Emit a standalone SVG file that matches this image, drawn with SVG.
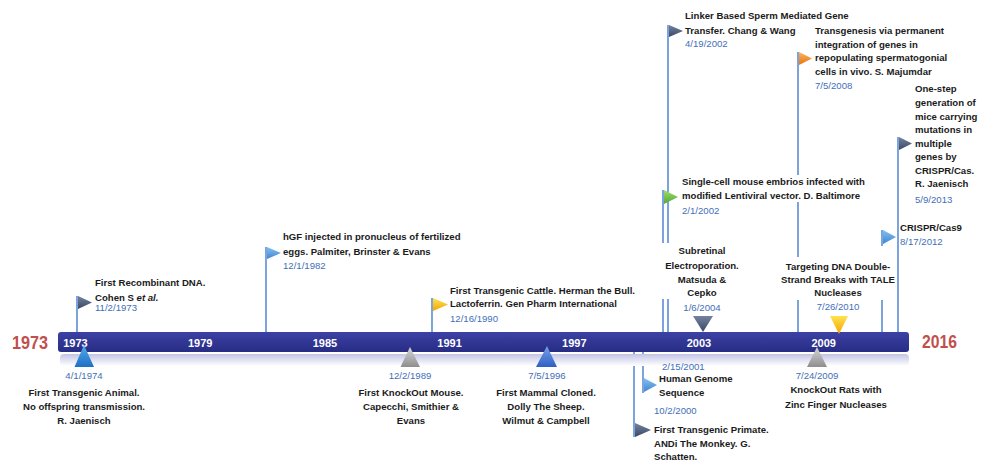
<svg xmlns="http://www.w3.org/2000/svg" width="981" height="464" viewBox="0 0 981 464">
<defs>
<linearGradient id="gBar" x1="0" y1="0" x2="0" y2="1"><stop offset="0" stop-color="#3c41a5"/><stop offset="1" stop-color="#272c84"/></linearGradient>
<linearGradient id="gShadow" x1="0" y1="0" x2="0" y2="1"><stop offset="0" stop-color="#c3c4e6"/><stop offset="1" stop-color="#ffffff"/></linearGradient>
<linearGradient id="gDark" x1="0" y1="0" x2="0" y2="1"><stop offset="0" stop-color="#74839f"/><stop offset="1" stop-color="#3a4866"/></linearGradient>
<linearGradient id="gLight" x1="0" y1="0" x2="0" y2="1"><stop offset="0" stop-color="#86c0ef"/><stop offset="1" stop-color="#3f86d2"/></linearGradient>
<linearGradient id="gYellow" x1="0" y1="0" x2="0" y2="1"><stop offset="0" stop-color="#ffe24f"/><stop offset="1" stop-color="#f2a600"/></linearGradient>
<linearGradient id="gGreen" x1="0" y1="0" x2="0" y2="1"><stop offset="0" stop-color="#a2dc66"/><stop offset="1" stop-color="#4fa83a"/></linearGradient>
<linearGradient id="gOrange" x1="0" y1="0" x2="0" y2="1"><stop offset="0" stop-color="#fbb561"/><stop offset="1" stop-color="#e8730f"/></linearGradient>
<linearGradient id="gBlueTri" x1="0" y1="0" x2="0" y2="1"><stop offset="0" stop-color="#52ace9"/><stop offset="1" stop-color="#1f6fc4"/></linearGradient>
<linearGradient id="gBlue2" x1="0" y1="0" x2="0" y2="1"><stop offset="0" stop-color="#77a2e8"/><stop offset="1" stop-color="#2f5fc4"/></linearGradient>
<linearGradient id="gGray" x1="0" y1="0" x2="0" y2="1"><stop offset="0" stop-color="#d6d6d6"/><stop offset="1" stop-color="#8e8e8e"/></linearGradient>
</defs>
<style>
.t{font-family:"Liberation Sans",Arial,sans-serif;font-size:9.6px;font-weight:bold;fill:#1b1b1b}
.d{font-family:"Liberation Sans",Arial,sans-serif;font-size:9.6px;fill:#3f6fb8}
.c{text-anchor:middle}
.yr{font-family:"Liberation Sans",Arial,sans-serif;font-size:11px;font-weight:bold;fill:#ffffff;text-anchor:middle}
.big{font-family:"Liberation Sans",Arial,sans-serif;font-size:18px;font-weight:bold;fill:#c0504d}
.pole{stroke:#5b8ed6;stroke-width:1.6;fill:none}
</style>

<g id="connectors">
<path class="pole" d="M77 296V332"/>
<path class="pole" d="M266 247V332"/>
<path class="pole" d="M432 298V332"/>
<path class="pole" d="M668 25V243M668 299V332"/>
<path class="pole" d="M663 190V243M663 299V332"/>
<path class="pole" d="M798 52V175M798 202V257M798 300V332"/>
<path class="pole" d="M898 137V332"/>
<path class="pole" d="M882 230V246M882 300V332"/>
<path class="pole" d="M634 352V437"/>
<path class="pole" d="M643 352V393"/>
</g>

<g id="timeline">
<rect x="60" y="354" width="849" height="12" rx="4" fill="url(#gShadow)"/>
<rect x="58" y="332" width="851" height="20" rx="3" fill="url(#gBar)"/>
<text class="yr" x="75.5" y="346.5">1973</text>
<text class="yr" x="200.2" y="346.5">1979</text>
<text class="yr" x="324.9" y="346.5">1985</text>
<text class="yr" x="449.6" y="346.5">1991</text>
<text class="yr" x="574.3" y="346.5">1997</text>
<text class="yr" x="699" y="346.5">2003</text>
<text class="yr" x="823.7" y="346.5">2009</text>
<text class="big" x="12" y="348.5" textLength="36" lengthAdjust="spacingAndGlyphs">1973</text>
<text class="big" x="922" y="348" textLength="35" lengthAdjust="spacingAndGlyphs">2016</text>
</g>

<g id="ev-recombinant">
<polygon points="78,296 78,309 92,302.5" fill="url(#gDark)"/>
<text class="t" x="95" y="286">First Recombinant DNA.</text>
<text class="t" x="95" y="301">Cohen S <tspan font-style="italic">et al.</tspan></text>
<text class="d" x="95" y="311">11/2/1973</text>
</g>

<g id="ev-hgf">
<polygon points="267,247 267,259 281,253" fill="url(#gLight)"/>
<text class="t" x="283" y="239.5">hGF injected in pronucleus of fertilized</text>
<text class="t" x="283" y="255">eggs. Palmiter, Brinster &amp; Evans</text>
<text class="d" x="283" y="268.5">12/1/1982</text>
</g>

<g id="ev-cattle">
<polygon points="433,298 433,311 448,304.5" fill="url(#gYellow)"/>
<text class="t" x="450" y="293.5">First Transgenic Cattle. Herman the Bull.</text>
<text class="t" x="450" y="307">Lactoferrin. Gen Pharm International</text>
<text class="d" x="450" y="322">12/16/1990</text>
</g>

<g id="ev-linker">
<polygon points="669,25 669,37 683,31" fill="url(#gDark)"/>
<text class="t" x="685" y="18.5">Linker Based Sperm Mediated Gene</text>
<text class="t" x="685" y="33.5">Transfer. Chang &amp; Wang</text>
<text class="d" x="685" y="46.5">4/19/2002</text>
</g>

<g id="ev-lentiviral">
<polygon points="664,190 664,204 678,197" fill="url(#gGreen)"/>
<text class="t" x="682" y="185">Single-cell mouse embrios infected with</text>
<text class="t" x="682" y="199">modified Lentiviral vector. D. Baltimore</text>
<text class="d" x="682" y="213.5">2/1/2002</text>
</g>

<g id="ev-subretinal">
<text class="t c" x="702" y="254">Subretinal</text>
<text class="t c" x="702" y="268.5">Electroporation.</text>
<text class="t c" x="702" y="283">Matsuda &amp;</text>
<text class="t c" x="702" y="296">Cepko</text>
<text class="d c" x="702" y="311">1/6/2004</text>
<polygon points="693,316 713,316 703,332" fill="url(#gDark)"/>
</g>

<g id="ev-spermatogonial">
<polygon points="799,52 799,65 812,58.5" fill="url(#gOrange)"/>
<text class="t" x="815" y="33.5">Transgenesis via permanent</text>
<text class="t" x="815" y="47.5">integration of genes in</text>
<text class="t" x="815" y="61">repopulating spermatogonial</text>
<text class="t" x="815" y="74.5">cells in vivo. S. Majumdar</text>
<text class="d" x="815" y="89">7/5/2008</text>
</g>

<g id="ev-onestep">
<polygon points="899,137 899,150 912,143.5" fill="url(#gDark)"/>
<text class="t" x="915" y="92">One-step</text>
<text class="t" x="915" y="106">generation of</text>
<text class="t" x="915" y="119.5">mice carrying</text>
<text class="t" x="915" y="133">mutations in</text>
<text class="t" x="915" y="146.5">multiple</text>
<text class="t" x="915" y="160">genes by</text>
<text class="t" x="915" y="173.5">CRISPR/Cas.</text>
<text class="t" x="915" y="187">R. Jaenisch</text>
<text class="d" x="915" y="202.5">5/9/2013</text>
</g>

<g id="ev-crispr">
<polygon points="883,230 883,244 896,237" fill="url(#gLight)"/>
<text class="t" x="900" y="231">CRISPR/Cas9</text>
<text class="d" x="900" y="245">8/17/2012</text>
</g>

<g id="ev-tale">
<text class="t c" x="838" y="269.5">Targeting DNA Double-</text>
<text class="t c" x="838" y="283">Strand Breaks with TALE</text>
<text class="t c" x="838" y="296">Nucleases</text>
<text class="d c" x="838" y="310">7/26/2010</text>
<polygon points="830,316 848,316 839,334" fill="url(#gYellow)"/>
</g>

<g id="ev-animal">
<polygon points="84,345 74.5,367 94,367" fill="url(#gBlueTri)"/>
<text class="d c" x="84" y="378.5">4/1/1974</text>
<text class="t c" x="84" y="396">First Transgenic Animal.</text>
<text class="t c" x="84" y="410">No offspring transmission.</text>
<text class="t c" x="84" y="423.5">R. Jaenisch</text>
</g>

<g id="ev-knockout-mouse">
<polygon points="410,347 400.5,367 420,367" fill="url(#gGray)"/>
<text class="d c" x="410" y="378.5">12/2/1989</text>
<text class="t c" x="411" y="396">First KnockOut Mouse.</text>
<text class="t c" x="411" y="410">Capecchi, Smithier &amp;</text>
<text class="t c" x="411" y="423.5">Evans</text>
</g>

<g id="ev-dolly">
<polygon points="547,346 536,367 557,367" fill="url(#gBlue2)"/>
<text class="d c" x="547" y="378.5">7/5/1996</text>
<text class="t c" x="546" y="396">First Mammal Cloned.</text>
<text class="t c" x="546" y="410">Dolly The Sheep.</text>
<text class="t c" x="546" y="423.5">Wilmut &amp; Campbell</text>
</g>

<g id="ev-genome">
<polygon points="644,378 644,392 657,385" fill="url(#gLight)"/>
<text class="d" x="662" y="369.5">2/15/2001</text>
<text class="t" x="659" y="382">Human Genome</text>
<text class="t" x="659" y="396">Sequence</text>
</g>

<g id="ev-primate">
<polygon points="635,423 635,437 651,430" fill="url(#gDark)"/>
<text class="d" x="654" y="414">10/2/2000</text>
<text class="t" x="654" y="433">First Transgenic Primate.</text>
<text class="t" x="654" y="447">ANDi The Monkey. G.</text>
<text class="t" x="654" y="460">Schatten.</text>
</g>

<g id="ev-knockout-rats">
<polygon points="817,347 807,367 827,367" fill="url(#gGray)"/>
<text class="d c" x="817" y="378.5">7/24/2009</text>
<text class="t c" x="836" y="393">KnockOut Rats with</text>
<text class="t c" x="836" y="407.5">Zinc Finger Nucleases</text>
</g>
</svg>
